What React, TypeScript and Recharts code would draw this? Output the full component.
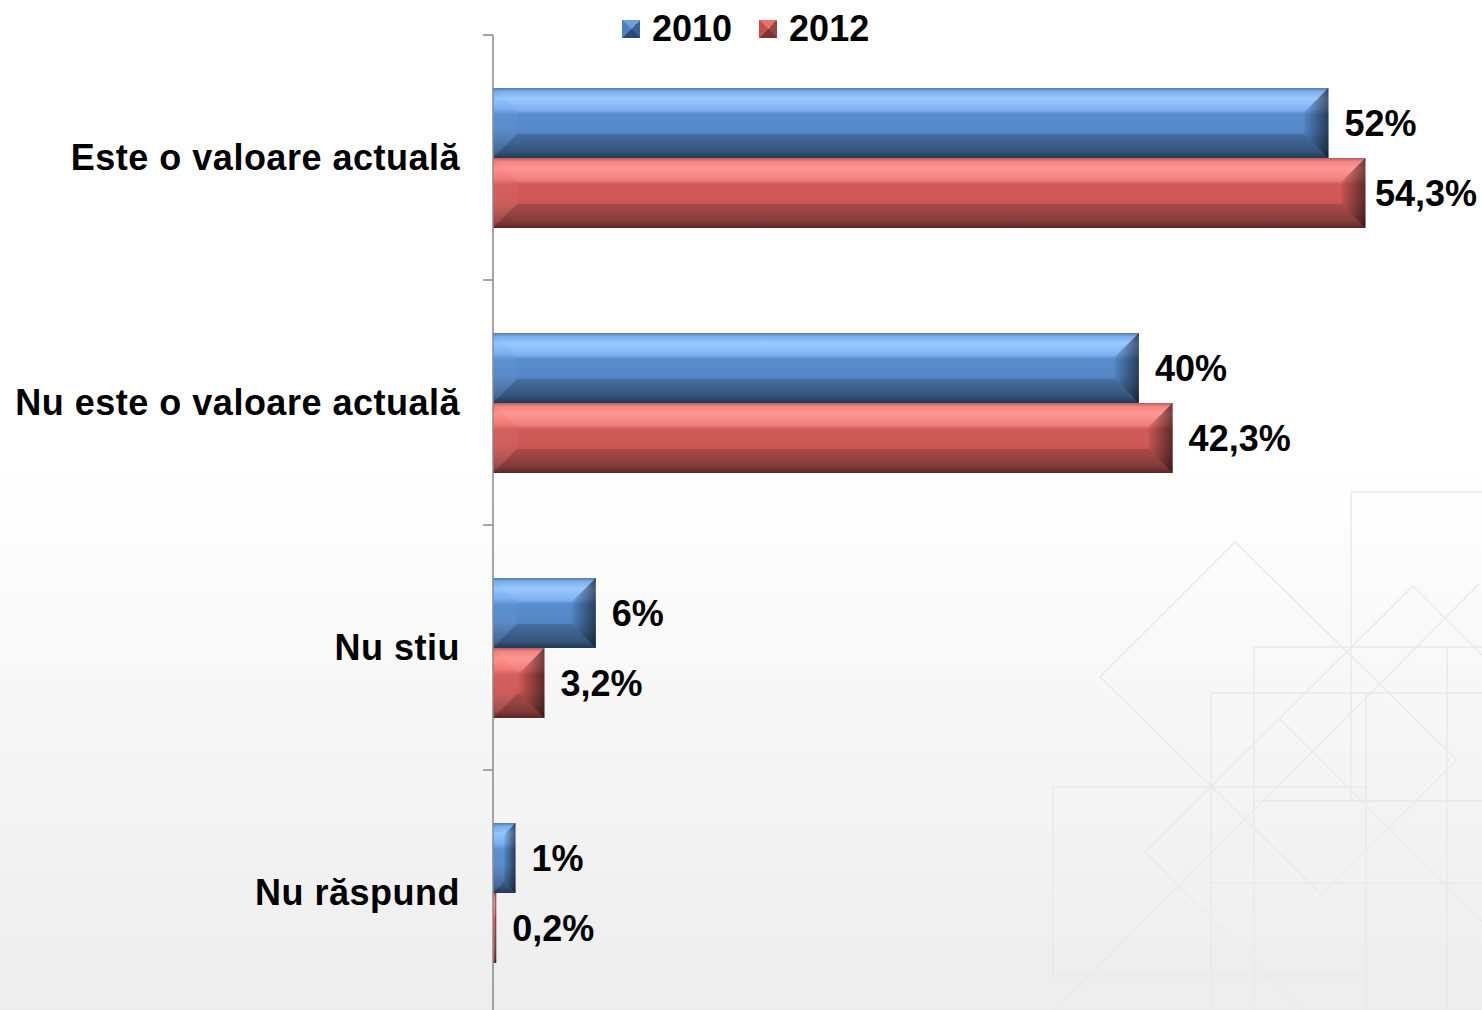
import { Bar, BarChart, LabelList, Legend, XAxis, YAxis } from "recharts";

const categories = ["Este o valoare actuală", "Nu este o valoare actuală", "Nu stiu", "Nu răspund"];
const values2010 = [52, 40.2, 6.4, 1.4];
const values2012 = [54.3, 42.3, 3.2, 0.2];
const seriesNames = ["2010", "2012"];
const xDomain = [0, 60];

const data = categories.map((name, i) => ({ name, y2010: values2010[i], y2012: values2012[i] }));

const CHART_W = 1482;
const CHART_H = 1017;
const LEGEND_H = 37;
const BAND = (CHART_H - LEGEND_H) / categories.length;
const TICK_SIZE = 10;
const TICK_MARGIN = 23;
const AXIS_COLOR = "#8a8a8a";
const FONT = '"Liberation Sans", Arial, sans-serif';

const palettes = {
  blue: {
    stops: ["#3f6ba3", "#6fa5ea", "#8dc3ff", "#74aaf0", "#568cce", "#5588c8", "#4a77ae", "#3d6491", "#2e4b70", "#2a4566"],
    legend: "conic-gradient(from -45deg, #6d9fdc 0 90deg, #3b6296 90deg 180deg, #2c4a72 180deg 270deg, #4f80bb 270deg 360deg)",
  },
  red: {
    stops: ["#b04a48", "#f07a76", "#ff8b87", "#f07470", "#d05a58", "#ce5856", "#b85250", "#9a4543", "#7a3433", "#6a2d2c"],
    legend: "conic-gradient(from -45deg, #e8716d 0 90deg, #9c4442 90deg 180deg, #7a3433 180deg 270deg, #c0504d 270deg 360deg)",
  },
};
const stopOffsets = [0, 5, 15, 30, 38, 60, 75, 90, 97, 100];

const charEm: Record<string, number> = { ",": 0.278, "%": 0.889 };
const textWidth = (s: string, size: number) =>
  s.split("").reduce((acc, c) => acc + (charEm[c] ?? 0.556), 0) * size;

const fmt2010 = (v: number) => `${Math.round(v)}%`;
const fmt2012 = (v: number) => `${v.toFixed(1).replace(".", ",")}%`;

function BevelBar(props: any) {
  const { x, y, width, height, kind } = props;
  if (width == null || height == null) return null;
  const w = Math.max(width, 0);
  const h = height;
  const b = Math.min(24, w / 2, h / 2);
  return (
    <g>
      <rect x={x} y={y} width={w} height={h} fill={`url(#grad-${kind})`} />
      <polygon
        points={`${x},${y} ${x + w},${y} ${x + w - b},${y + b} ${x + b},${y + b}`}
        fill="#ffffff"
        fillOpacity={0.1}
      />
      <polygon
        points={`${x},${y + h} ${x + w},${y + h} ${x + w - b},${y + h - b} ${x + b},${y + h - b}`}
        fill="#000000"
        fillOpacity={0.15}
      />
      <polygon
        points={`${x},${y} ${x + b},${y + b} ${x + b},${y + h - b} ${x},${y + h}`}
        fill="#ffffff"
        fillOpacity={0.04}
      />
      <polygon
        points={`${x + w},${y} ${x + w - b},${y + b} ${x + w - b},${y + h - b} ${x + w},${y + h}`}
        fill="url(#rightBevel)"
      />
    </g>
  );
}

function CategoryTick(props: any) {
  const { x, y, payload } = props;
  const axisX = x + TICK_SIZE + TICK_MARGIN;
  const top = y - BAND / 2;
  return (
    <g>
      <line x1={axisX - TICK_SIZE} x2={axisX} y1={top} y2={top} stroke={AXIS_COLOR} strokeWidth={1.5} />
      <text
        x={x}
        y={y}
        dy="0.36em"
        textAnchor="end"
        fontFamily={FONT}
        fontWeight={700}
        fontSize={36}
        letterSpacing={0.5}
        fill="#000"
      >
        {payload.value}
      </text>
    </g>
  );
}

const makeLabel = (format: (v: number) => string) => (props: any) => {
  const { x, y, width, height, value } = props;
  const text = format(Number(value));
  const size = 36;
  const start = Math.min(x + width + 16, CHART_W - 5 - textWidth(text, size));
  return (
    <text x={start} y={y + height / 2} dy="0.36em" fontFamily={FONT} fontWeight={700} fontSize={size} fill="#000">
      {text}
    </text>
  );
};

function LegendBox() {
  const kinds = [palettes.blue, palettes.red];
  return (
    <div style={{ height: LEGEND_H, display: "flex", fontFamily: FONT, fontWeight: 700, fontSize: 36, lineHeight: "35px", color: "#000" }}>
      {seriesNames.map((name, i) => (
        <div key={name} style={{ display: "flex", alignItems: "center", marginRight: 27, transform: "translateY(12px)" }}>
          <span style={{ width: 18, height: 18, background: kinds[i].legend, marginRight: 12, display: "inline-block" }} />
          <span>{name}</span>
        </div>
      ))}
    </div>
  );
}

function Backdrop() {
  const c = "#e9e9e9";
  return (
    <svg width={CHART_W} height={1010} style={{ position: "absolute", left: 0, top: 0 }}>
      <g stroke={c} strokeWidth={1.5} fill="none">
        <polygon points="1235,542 1457,760 1322,895 1100,677" />
        <polyline points="1145,852 1413,586 1482,655" />
        <line x1={1145} y1={852} x2={1303} y2={1010} />
        <line x1={1479} y1={584} x2={1055} y2={1010} />
        <line x1={1280} y1={719} x2={1482} y2={921} />
        <polyline points="1351,801 1351,492 1482,492" />
        <polyline points="1254,1010 1254,647 1482,647" />
        <polyline points="1211,1010 1211,693 1482,693" />
        <polyline points="1366,787 1053,787 1053,976 1366,976" />
        <line x1={1366} y1={693} x2={1366} y2={1010} />
        <line x1={1447} y1={647} x2={1447} y2={1010} />
        <line x1={1254} y1={801} x2={1482} y2={801} />
        <line x1={1211} y1={883} x2={1482} y2={883} />
      </g>
    </svg>
  );
}

export default function App() {
  return (
    <div
      style={{
        position: "absolute",
        left: 0,
        top: 0,
        width: CHART_W,
        height: 1010,
        overflow: "hidden",
        background: "linear-gradient(to bottom, #ffffff 0%, #ffffff 45%, #ededed 100%)",
      }}
    >
      <Backdrop />
      <div style={{ position: "absolute", left: 0, top: -2 }}>
        <BarChart
          width={CHART_W}
          height={CHART_H}
          data={data}
          layout="vertical"
          margin={{ top: 0, right: 25, bottom: 0, left: 0 }}
          barSize={70}
          barGap={0}
        >
          <defs>
            {(["blue", "red"] as const).map((k) => (
              <linearGradient key={k} id={`grad-${k}`} x1="0" y1="0" x2="0" y2="1">
                {palettes[k].stops.map((s, i) => (
                  <stop key={i} offset={`${stopOffsets[i]}%`} stopColor={s} />
                ))}
              </linearGradient>
            ))}
            <linearGradient id="rightBevel" x1="0" y1="0" x2="1" y2="0">
              <stop offset="0%" stopColor="#000" stopOpacity={0.05} />
              <stop offset="100%" stopColor="#000" stopOpacity={0.55} />
            </linearGradient>
          </defs>
          <Legend
            verticalAlign="top"
            align="left"
            content={() => <LegendBox />}
            wrapperStyle={{ left: 622, top: 0, width: "auto" }}
          />
          <XAxis type="number" domain={xDomain} hide />
          <YAxis
            type="category"
            dataKey="name"
            width={493}
            interval={0}
            tickSize={TICK_SIZE}
            tickMargin={TICK_MARGIN}
            tickLine={false}
            axisLine={{ stroke: AXIS_COLOR, strokeWidth: 1.5 }}
            tick={<CategoryTick />}
          />
          <Bar dataKey="y2010" name={seriesNames[0]} fill="#4f81bd" isAnimationActive={false} shape={(p: any) => <BevelBar {...p} kind="blue" />}>
            <LabelList dataKey="y2010" content={makeLabel(fmt2010)} />
          </Bar>
          <Bar dataKey="y2012" name={seriesNames[1]} fill="#c0504d" isAnimationActive={false} shape={(p: any) => <BevelBar {...p} kind="red" />}>
            <LabelList dataKey="y2012" content={makeLabel(fmt2012)} />
          </Bar>
        </BarChart>
      </div>
    </div>
  );
}
